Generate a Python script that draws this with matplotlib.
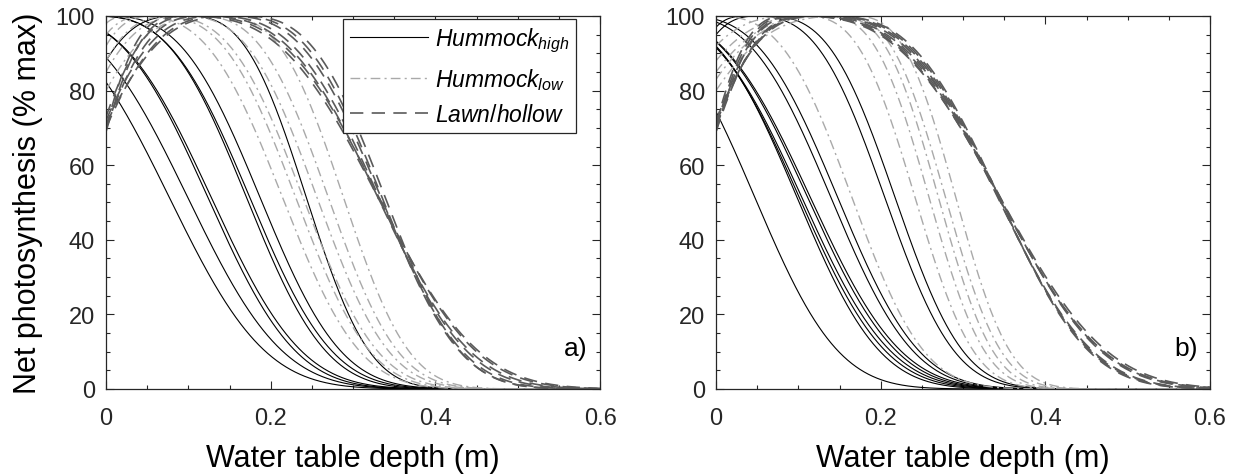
import numpy as np
import matplotlib
matplotlib.use('Agg')
import matplotlib.pyplot as plt
from matplotlib.ticker import MultipleLocator
from matplotlib.lines import Line2D

nan = np.nan

# each curve: depth of the optimum (m), tolerance below the optimum (m),
# value at the surface (% max) for curves whose optimum lies below the surface
a_high_opt = [-0.152, -0.127, -0.086, -0.088, -0.019, -0.022, -0.006, 0.093]
a_high_tol = [0.262, 0.259, 0.240, 0.247, 0.217, 0.225, 0.221, 0.172]
a_high_start = [nan, nan, nan, nan, nan, nan, nan, 88.0]

a_low_opt = [0.030, 0.053, 0.061, 0.085, 0.104, 0.132]
a_low_tol = [0.211, 0.203, 0.204, 0.196, 0.190, 0.179]
a_low_start = [98.0, 95.0, 92.0, 88.0, 85.0, 80.0]

a_lawn_opt = [0.122, 0.140, 0.100, 0.160, 0.090, 0.110, 0.150]
a_lawn_tol = [0.240, 0.222, 0.265, 0.205, 0.275, 0.252, 0.212]
a_lawn_start = [70.0, 72.0, 69.0, 71.0, 70.0, 73.0, 70.0]

b_high_opt = [-0.152, -0.099, -0.105, -0.108, -0.101, -0.102, -0.057, -0.047, 0.039, 0.055]
b_high_tol = [0.228, 0.226, 0.236, 0.243, 0.243, 0.248, 0.225, 0.223, 0.190, 0.186]
b_high_start = [nan, nan, nan, nan, nan, nan, nan, nan, 97.0, 95.0]

b_low_opt = [-0.007, 0.102, 0.126, 0.140, 0.146, 0.162]
b_low_tol = [0.197, 0.160, 0.152, 0.149, 0.152, 0.148]
b_low_start = [nan, 92.0, 88.0, 85.0, 83.0, 80.0]

b_lawn_opt = [0.120, 0.125, 0.115, 0.130, 0.095, 0.090, 0.100, 0.105]
b_lawn_tol = [0.255, 0.250, 0.260, 0.245, 0.285, 0.292, 0.280, 0.275]
b_lawn_start = [70.0, 71.0, 69.0, 72.0, 70.0, 71.0, 69.0, 70.0]

labels = [r'$\mathit{Hummock}_{\mathit{high}}$', r'$\mathit{Hummock}_{\mathit{low}}$',
          r'$\mathit{Lawn/hollow}$']
panel_tags = ['a)', 'b)']

SHAPE = 3
wtd = np.linspace(0, 0.6, 1201)


def response(x, opt, tol, start):
    y = 100 * np.exp(-np.abs((x - opt) / tol) ** SHAPE)
    if opt > 0:
        left = opt / np.log(100.0 / start) ** (1.0 / SHAPE)
        yl = 100 * np.exp(-np.abs((x - opt) / left) ** SHAPE)
        y = np.where(x < opt, yl, y)
    return y


plt.rcParams['font.family'] = ['Liberation Sans', 'DejaVu Sans']
plt.rcParams['mathtext.fontset'] = 'custom'
plt.rcParams['mathtext.it'] = 'Liberation Sans:italic'
plt.rcParams['mathtext.rm'] = 'Liberation Sans'

styles = {
    'high': dict(color='black', ls='-', lw=0.8),
    'low': dict(color='#a9a9a9', ls=(0, (7, 3, 1.5, 3)), lw=1.0),
    'lawn': dict(color='#5a5a5a', ls=(0, (8, 5)), lw=1.2),
}

panels = [
    [('high', a_high_opt, a_high_tol, a_high_start),
     ('low', a_low_opt, a_low_tol, a_low_start),
     ('lawn', a_lawn_opt, a_lawn_tol, a_lawn_start)],
    [('high', b_high_opt, b_high_tol, b_high_start),
     ('low', b_low_opt, b_low_tol, b_low_start),
     ('lawn', b_lawn_opt, b_lawn_tol, b_lawn_start)],
]

fig = plt.figure(figsize=(12.36, 4.77), dpi=100)
axes = [fig.add_axes([0.0858, 0.1824, 0.3997, 0.782]),
        fig.add_axes([0.5793, 0.1824, 0.3997, 0.782])]

for ax, groups, tag in zip(axes, panels, panel_tags):
    for key, opts, tols, starts in groups:
        for o, t, s in zip(opts, tols, starts):
            ax.plot(wtd, response(wtd, o, t, s), **styles[key])
    ax.set_xlim(0, 0.6)
    ax.set_ylim(0, 100)
    ax.xaxis.set_minor_locator(MultipleLocator(0.05))
    ax.yaxis.set_minor_locator(MultipleLocator(5))
    ax.set_xticks([0, 0.2, 0.4, 0.6])
    ax.set_xticklabels(['0', '0.2', '0.4', '0.6'], fontsize=17)
    ax.set_yticks([0, 20, 40, 60, 80, 100])
    ax.set_yticklabels(['0', '20', '40', '60', '80', '100'], fontsize=17)
    ax.tick_params(which='both', direction='in', top=True, right=True, colors='#262626')
    ax.tick_params(which='major', length=6, width=0.8)
    ax.tick_params(axis='x', which='major', pad=13)
    ax.tick_params(axis='y', which='major', pad=8)
    ax.tick_params(which='minor', length=3, width=0.8)
    for sp in ax.spines.values():
        sp.set_color('#262626')
        sp.set_linewidth(0.9)
    ax.set_xlabel('Water table depth (m)', fontsize=22, labelpad=10)
    ax.text(0.975, 0.11, tag, transform=ax.transAxes, ha='right', va='center', fontsize=19)

axes[0].set_ylabel('Net photosynthesis (% max)', fontsize=22, labelpad=9)

handles = [Line2D([], [], **styles[k]) for k in ['high', 'low', 'lawn']]
leg = axes[0].legend(handles, labels, loc='upper right', bbox_to_anchor=(0.951, 0.992),
                     borderaxespad=0, fancybox=False, framealpha=1, edgecolor='#262626',
                     fontsize=16.5, handlelength=3.4, handletextpad=0.3, labelspacing=0.5,
                     borderpad=0.3)
leg.get_frame().set_linewidth(0.9)

fig.savefig('out.png', dpi=100)
